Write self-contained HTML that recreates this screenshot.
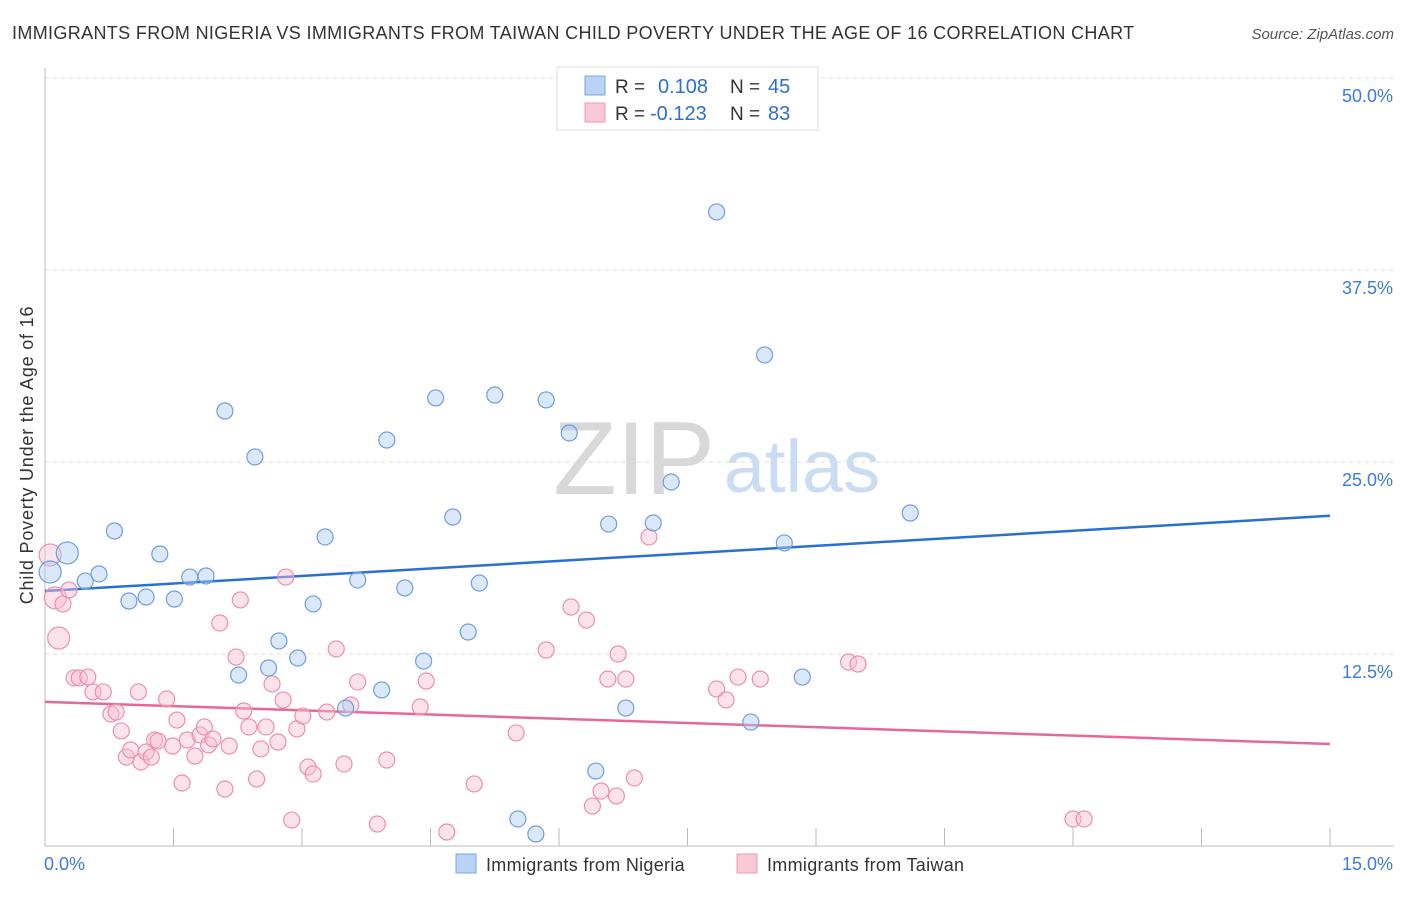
<!DOCTYPE html>
<html><head><meta charset="utf-8"><style>
body{margin:0;background:#fff;font-family:"Liberation Sans",sans-serif;}
svg text{font-family:"Liberation Sans",sans-serif;}
</style></head><body>
<svg id="chart" width="1406" height="892" xmlns="http://www.w3.org/2000/svg">
<text x="12" y="39" font-size="18" letter-spacing="0.35" fill="#333">IMMIGRANTS FROM NIGERIA VS IMMIGRANTS FROM TAIWAN CHILD POVERTY UNDER THE AGE OF 16 CORRELATION CHART</text>
<text x="1394" y="39" font-size="15" fill="#555" text-anchor="end" font-style="italic">Source: ZipAtlas.com</text>
<g><text x="634" y="494" font-size="104" fill="#d8d8d8" text-anchor="middle" font-family="Liberation Serif">ZIP</text><text x="802" y="492" font-size="74" fill="#c9dcf2" text-anchor="middle">atlas</text></g>
<text transform="translate(33,455) rotate(-90)" font-size="18" letter-spacing="0.8" fill="#333" text-anchor="middle">Child Poverty Under the Age of 16</text>
<g id="grid"></g><g id="axes"></g><g id="lines"></g><g id="pts"></g>
<g>
<rect x="557" y="67" width="261" height="63" fill="#fff" stroke="#ddd"/>
<rect x="585" y="76" width="20" height="19" fill="#b8d3f5" stroke="#7aa6de"/>
<rect x="585" y="103" width="20" height="19" fill="#fac8d6" stroke="#ee9ab3"/>
<text x="615" y="93" font-size="19" fill="#333">R =</text><text x="658" y="93" font-size="20" fill="#2f6fd0">0.108</text><text x="730" y="93" font-size="19" fill="#333">N =</text><text x="768" y="93" font-size="20" fill="#2f6fd0">45</text>
<text x="615" y="120" font-size="19" fill="#333">R =</text><text x="650" y="120" font-size="20" fill="#2f6fd0">-0.123</text><text x="730" y="120" font-size="19" fill="#333">N =</text><text x="768" y="120" font-size="20" fill="#2f6fd0">83</text>
</g>
<g>
<rect x="456" y="854" width="20" height="19" fill="#b8d3f5" stroke="#7aa6de"/>
<text x="486" y="871" font-size="18" letter-spacing="0.3" fill="#333">Immigrants from Nigeria</text>
<rect x="737" y="854" width="20" height="19" fill="#fac8d6" stroke="#ee9ab3"/>
<text x="767" y="871" font-size="18" letter-spacing="0.3" fill="#333">Immigrants from Taiwan</text>
</g>
</svg>
<script>
const yTicks=[12.5,25,37.5,50];
const yTickLabels=["12.5%","25.0%","37.5%","50.0%"];
const xTickLabels=["0.0%","15.0%"];
const nigeriaX=[0.26,0.06,0.47,0.63,0.81,0.98,1.18,1.34,1.51,1.69,1.88,2.10,2.26,2.45,2.61,2.73,2.95,3.13,3.27,3.51,3.65,3.93,3.99,4.20,4.42,4.56,4.76,4.94,5.07,5.25,5.52,5.73,5.85,6.12,6.43,6.58,6.78,7.10,7.31,7.84,8.24,8.40,8.63,8.84,10.10];
const nigeriaY=[19.08,17.84,17.25,17.71,20.51,15.95,16.21,19.01,16.08,17.51,17.58,28.32,11.13,25.33,11.59,13.35,12.24,15.76,20.12,8.98,17.32,10.16,26.43,16.80,12.04,29.17,21.42,13.93,17.12,29.36,1.76,0.78,29.04,26.89,4.88,20.96,8.98,21.03,23.70,41.28,8.07,31.97,19.73,11.00,21.68];
const taiwanX=[0.06,0.12,0.16,0.21,0.28,0.34,0.40,0.50,0.56,0.68,0.77,0.83,0.89,0.95,1.00,1.09,1.12,1.18,1.24,1.28,1.32,1.42,1.49,1.54,1.60,1.66,1.75,1.81,1.86,1.91,1.96,2.04,2.10,2.15,2.23,2.28,2.32,2.38,2.47,2.52,2.58,2.65,2.72,2.78,2.81,2.88,2.94,3.01,3.07,3.13,3.29,3.40,3.49,3.57,3.65,3.88,3.99,4.38,4.45,4.69,5.01,5.50,5.85,6.14,6.32,6.39,6.49,6.57,6.67,6.69,6.78,6.88,7.05,7.84,7.95,8.09,8.35,9.38,9.49,12.00,12.13];
const taiwanY=[18.95,16.15,13.54,15.76,16.67,10.94,10.94,11.00,10.03,10.03,8.59,8.72,7.49,5.79,6.25,10.03,5.47,6.12,5.79,6.90,6.84,9.57,6.51,8.20,4.10,6.90,5.86,7.23,7.75,6.58,6.97,14.52,3.71,6.51,12.30,16.02,8.79,7.75,4.36,6.32,7.75,10.55,6.77,9.51,17.51,1.69,7.62,8.46,5.14,4.69,8.72,12.83,5.34,9.18,10.68,1.43,5.60,9.05,10.74,0.91,4.04,7.36,12.76,15.56,14.71,2.60,3.58,10.87,3.26,12.50,10.87,4.43,20.12,10.22,9.51,11.00,10.87,11.98,11.85,1.76,1.76];
const nigeriaTrend=[16.6,21.5];
const taiwanTrend=[9.38,6.64];
const NS="http://www.w3.org/2000/svg";
const sx=v=>45+v/15*1285, sy=v=>846-v*15.36;
function mk(tag,attrs,parent){const e=document.createElementNS(NS,tag);for(const k in attrs)e.setAttribute(k,attrs[k]);document.getElementById(parent).appendChild(e);return e;}
yTicks.forEach((t,i)=>{
 const l=mk('line',{x1:45,x2:1394,y1:sy(t),y2:sy(t),stroke:'#ddd','stroke-dasharray':'4,4'},'grid');
 
 
 const tx=mk('text',{x:1393,y:sy(t)+24,'font-size':18,fill:'#3d7bd9','text-anchor':'end'},'grid');tx.textContent=yTickLabels[i];
 
 
});
const ax=mk('line',{x1:45,x2:45,y1:68,y2:846,stroke:'#bbb'},'axes');


const bx=mk('line',{x1:45,x2:1394,y1:846,y2:846,stroke:'#bbb'},'axes');


for(let i=0;i<=10;i++){const t=mk('line',{x1:sx(i*1.5),x2:sx(i*1.5),y1:828,y2:846,stroke:'#bbb'},'axes');
 
 }
[[0,'start',44],[15,'end',1393]].forEach((d,i)=>{const t=mk('text',{x:d[2],y:870,'font-size':18,fill:'#3d7bd9','text-anchor':d[1]},'axes');t.textContent=xTickLabels[i];
 
 });
function pts(X,Y,fill,stroke,name,bigN){X.forEach((x,i)=>{const c=mk('circle',{cx:sx(x),cy:sy(Y[i]),r:i<bigN?11:8,fill:fill,'fill-opacity':0.45,stroke:stroke,'stroke-width':1.2},'pts');
 
 });}
pts(taiwanX,taiwanY,'#f8bfd0','#ec8fae','taiwan-point',3);
pts(nigeriaX,nigeriaY,'#aecbf2','#6d9ee0','nigeria-point',2);
const l1=mk('line',{x1:sx(0),x2:sx(15),y1:sy(nigeriaTrend[0]),y2:sy(nigeriaTrend[1]),stroke:'#2a6fd6','stroke-width':2.5},'lines');


const l2=mk('line',{x1:sx(0),x2:sx(15),y1:sy(taiwanTrend[0]),y2:sy(taiwanTrend[1]),stroke:'#e6689a','stroke-width':2.5},'lines');


</script>
</body></html>
